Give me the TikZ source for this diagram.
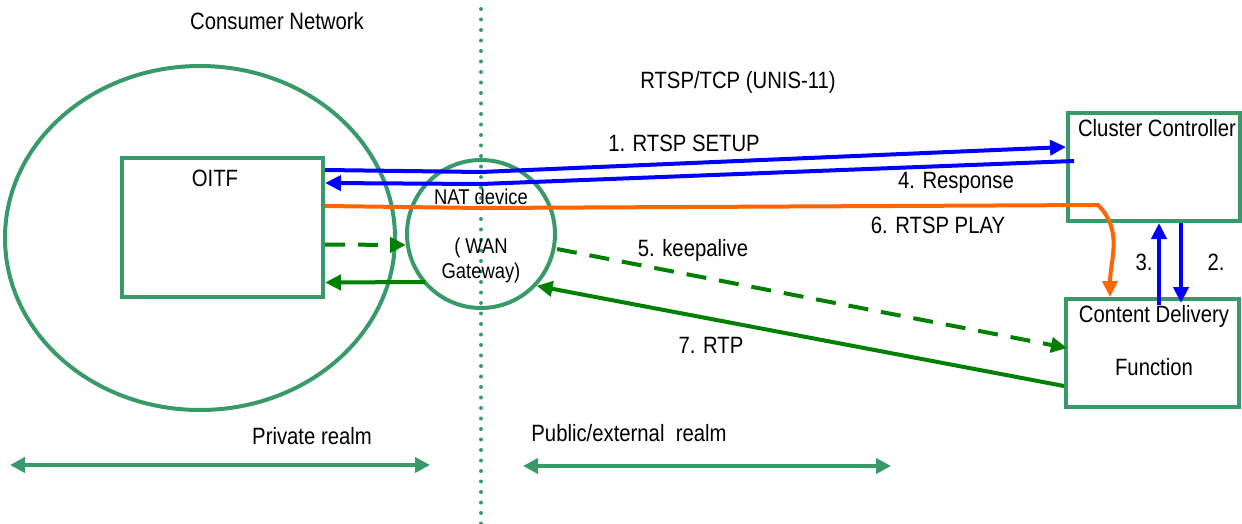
\documentclass[tikz,border=0pt]{standalone}
\usepackage{fontspec}
\setmainfont{Liberation Sans}[FakeStretch=0.86]
\usepackage{tikz}
\usetikzlibrary{positioning,calc,shapes.geometric,arrows.meta}

\definecolor{boxgreen}{RGB}{56,154,104}
\definecolor{flowgreen}{RGB}{0,128,0}
\definecolor{rtspblue}{RGB}{0,0,255}
\definecolor{playorange}{RGB}{255,102,0}

\tikzset{
    box/.style={draw=boxgreen, line width=2pt, inner sep=0pt},
    lbl/.style={inner sep=0pt, anchor=base, font=\fontsize{11.8}{14}\selectfont},
    natlbl/.style={inner sep=0pt, font=\fontsize{10.7}{13}\selectfont},
    tip/.style={-{Triangle[length=8pt,width=7.5pt]}},
    msg/.style={tip, line width=2pt, draw=rtspblue},
    play/.style={tip, line width=2pt, draw=playorange},
    keep/.style={tip, line width=2pt, draw=flowgreen, dash pattern=on 10pt off 6.5pt},
    rtp/.style={tip, line width=2pt, draw=flowgreen},
    realm/.style={{Triangle[length=7.5pt,width=7.5pt]}-{Triangle[length=7.5pt,width=7.5pt]}, line width=2.4pt, draw=boxgreen}
}

\begin{document}
\begin{tikzpicture}[x=0.5pt, y=-0.5pt]
            \useasboundingbox (0,0) rectangle (1242,524);
            % consumer network
            \node[ellipse,
            draw = boxgreen,
            line width = 2pt,
            minimum width = 195pt,
            minimum height = 172pt] (home) at (200,238) {};
            \node[lbl] (hometext) at (277,30) {Consumer Network};
            \node[box,
            minimum width = 100.5pt,
            minimum height = 69.5pt] (oitf) at (222.5,227.5) {};
            \node[lbl] (oitftext) at ($(oitf.north)+(-7.5,30)$) {OITF};
            % NAT device on the border
            \node[circle,
            draw = boxgreen,
            line width = 2pt,
            inner sep = 0pt,
            minimum size = 74pt] (nat) at (481,234) {};
            \coordinate (divtop) at (481,9);
            \coordinate (divbot) at (481,524);
            \draw[boxgreen, line width=2pt, line cap=round, dash pattern=on 0pt off 5.25pt] (divtop) -- (divbot);
            \node[natlbl, anchor=base] (nattext) at (481,205) {NAT device};
            \node[natlbl, anchor=base] (wan) at (481,253) {( WAN};
            \node[natlbl, below = 2.5pt of wan] (gw) {Gateway)};
            % network side
            \node[box,
            minimum width = 86pt,
            minimum height = 54pt] (cc) at (1154,167) {};
            \node[lbl] (cctext) at ($(cc.north)+(3,25)$) {Cluster Controller};
            \node[box,
            minimum width = 86.5pt,
            minimum height = 54pt] (cdf) at (1152.5,353) {};
            \node[lbl] (cdftext) at ($(cdf.north)+(1.5,25)$) {Content Delivery};
            \node[lbl] (cdftext2) at ($(cdf.north)+(1.5,78)$) {Function};
            \node[lbl] (tcp) at (738,89) {RTSP/TCP (UNIS-11)};
            % messages
            \draw[msg] ($(oitf.north east)+(0,14)$) -- ($(nat.north)+(0,14)$) -- ($(cc.west)+(0,-20)$);
            \draw[msg] ($(cc.west)+(8,-6)$) -- ($(nat.north)+(0,26)$) -- ($(oitf.north east)+(0,27)$);
            \draw[play] ($(oitf.north east)+(0,50)$) -- ($(nat.north)+(0,50)$) -- ($(cc.south west)+(32,-18)$)
                to[out=-45, in=90] ($(cdf.north west)+(46,0)$);
            \draw[msg] ($(cdf.north west)+(95,8)$) -- ($(cc.south west)+(93,0)$);
            \draw[msg] ($(cc.south west)+(115,0)$) -- ($(cdf.north west)+(117,6)$);
            \draw[keep] ($(oitf.east)+(0,17)$) -- ($(nat.west)+(1,11)$);
            \draw[rtp] ($(nat.west)+(20,48)$) -- ($(oitf.east)+(0,55)$);
            \draw[keep] ($(nat.east)+(0,15)$) -- ($(cdf.west)+(3,-5)$);
            \draw[rtp] ($(cdf.west)+(0,33)$) -- (nat.-43);
            \node[lbl] (setup) at (684,152) {1. RTSP SETUP};
            \node[lbl] (resp) at (956,188) {4. Response};
            \node[lbl] (playtext) at (938,233) {6. RTSP PLAY};
            \node[lbl] (alive) at (693,256) {5. keepalive};
            \node[lbl] (rtptext) at (711,353) {7. RTP};
            \node[lbl] (three) at (1144,270) {3.};
            \node[lbl] (two) at (1216,270) {2.};
            % realms
            \node[lbl] (private) at (312,444) {Private realm};
            \node[lbl] (public) at (629,441) {Public/external~~realm};
            \coordinate (privl) at (10,465);
            \coordinate (privr) at (430,465);
            \coordinate (publ) at (523,466);
            \coordinate (pubr) at (891,466);
            \draw[realm] (privl) -- (privr);
            \draw[realm] (publ) -- (pubr);
        \end{tikzpicture}
\end{document}
